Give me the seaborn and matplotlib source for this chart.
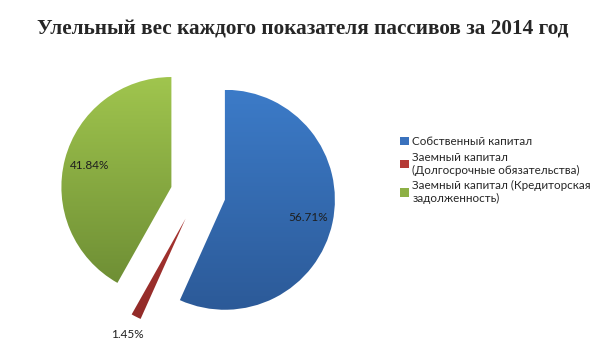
import numpy as np
import pandas as pd
import matplotlib
matplotlib.use("Agg")
import matplotlib.pyplot as plt
import seaborn as sns
from matplotlib.colors import LinearSegmentedColormap
from matplotlib.patches import Patch

title = "Улельный вес каждого показателя пассивов за 2014 год"
categories = ["Собственный капитал",
              "Заемный капитал\n(Долгосрочные обязательства)",
              "Заемный капитал (Кредиторская\nзадолженность)"]
values = [56.71, 1.45, 41.84]
top_colors = ["#3c7bc8", "#bd3e3a", "#a0c54e"]
bottom_colors = ["#2c5a98", "#902a27", "#6b8b33"]
legend_colors = ["#3a72bd", "#b53a36", "#8db045"]

sns.set_theme(style="white")
plt.rcParams["font.family"] = ["Lato", "DejaVu Sans"]

W, H = 605, 340
fig = plt.figure(figsize=(W / 100, H / 100), dpi=100)
S = 286
cxp, cyp = 198, 194
ax = fig.add_axes([(cxp - S / 2) / W, (H - cyp - S / 2) / H, S / W, S / H])

df = pd.DataFrame({"cat": categories, "val": values})
wedges, texts, autotexts = ax.pie(
    df["val"], startangle=90, counterclock=False, explode=[0.25] * 3,
    radius=1, autopct=lambda p: f"{p:.2f}%", pctdistance=0.77,
    textprops=dict(fontsize=8.5, color="#1e1e1e"))

for w, ct, cb in zip(wedges, top_colors, bottom_colors):
    cmap = LinearSegmentedColormap.from_list("g", [cb, ct])
    cx, cy = w.center
    r = w.r
    grad = np.linspace(0, 1, 256).reshape(-1, 1)
    im = ax.imshow(grad, cmap=cmap, origin="lower",
                   extent=[cx - r, cx + r, cy - r, cy + r],
                   aspect="auto", zorder=1)
    im.set_clip_path(w)
    w.set_facecolor("none")
    w.set_edgecolor("none")

# small slice label placed outside
t = autotexts[1]
w = wedges[1]
px, py = t.get_position()
cx, cy = w.center
f = 1.18 / 0.77
t.set_position((cx + (px - cx) * f, cy + (py - cy) * f))
for a in autotexts:
    a.set_zorder(5)

ax.set_xlim(-1.3, 1.3)
ax.set_ylim(-1.3, 1.3)
ax.set_aspect("equal")
ax.axis("off")

fig.text(0.5, 1 - 30 / H, title, ha="center", va="center", fontsize=15.3,
         fontweight="bold", family=["Liberation Serif", "DejaVu Serif"])

handles = [Patch(facecolor=c, edgecolor="none") for c in legend_colors]
fig.legend(handles, categories, loc="upper left",
           bbox_to_anchor=(400 / W, 1 - 136 / H), frameon=False,
           handlelength=0.8, handleheight=0.7, handletextpad=0.25,
           labelspacing=0.4, fontsize=8.4, borderaxespad=0, borderpad=0)

fig.savefig("out.png", dpi=100, facecolor="white")
